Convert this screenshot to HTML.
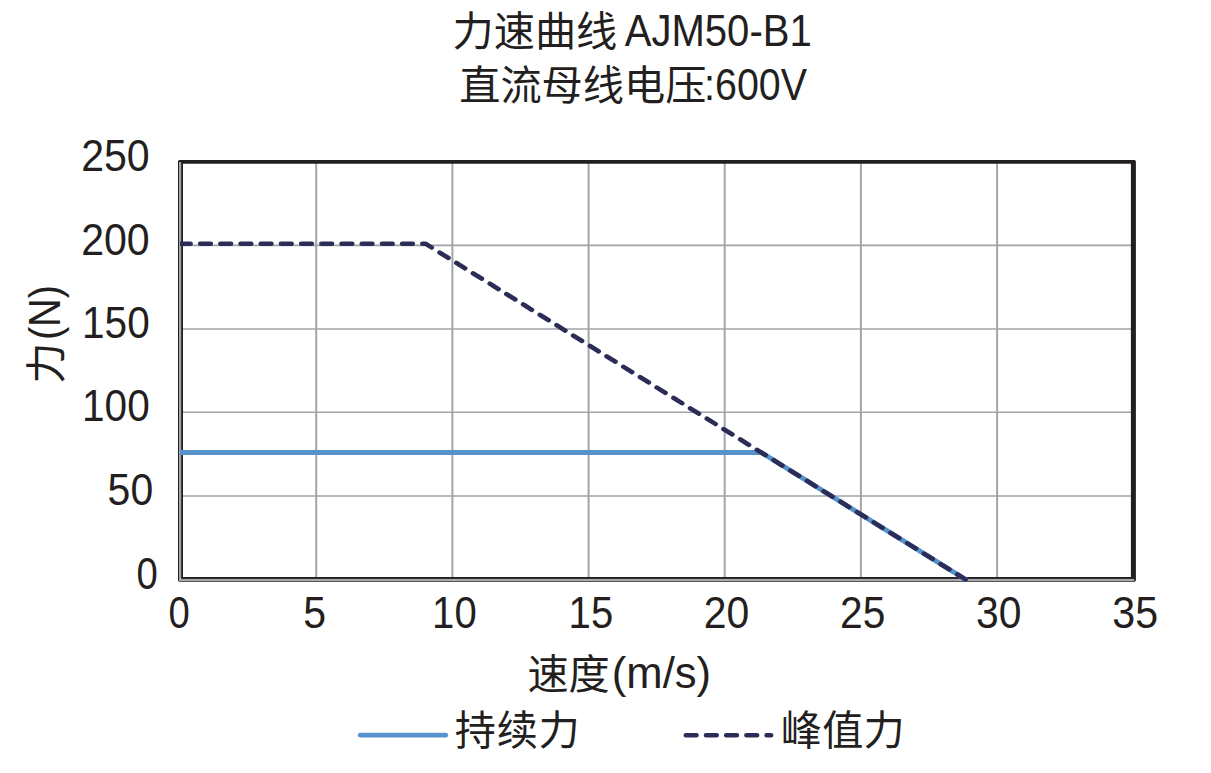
<!DOCTYPE html>
<html lang="zh-CN">
<head>
<meta charset="utf-8">
<title>力速曲线 AJM50-B1</title>
<style>
  html, body { margin: 0; padding: 0; background: #ffffff; }
  body { width: 1211px; height: 773px; overflow: hidden; }
  svg { display: block; }
  text {
    font-family: "Liberation Sans", "Noto Sans CJK SC", sans-serif;
    fill: #231f20;
    font-kerning: none;
  }
  .cjk { font-size: 41.2px; }
  .num { font-size: 45.0px; }
</style>
</head>
<body>
<svg width="1211" height="773" viewBox="0 0 1211 773">
  <rect x="0" y="0" width="1211" height="773" fill="#ffffff"/>

  <!-- chart title -->
  <text class="cjk" x="452.5" y="46">力速曲线</text>
  <text class="num" transform="translate(624.65 45.90) scale(0.8907 1)">AJM50-B1</text>
  <text class="cjk" x="459.2" y="99.8">直流母线电压</text>
  <text class="num" transform="translate(704.10 99.80) scale(0.8757 1)">:600V</text>

  <!-- grid lines -->
  <g stroke="#a1a3a7" fill="none">
    <g stroke-width="1.95">
      <line x1="316.2" y1="162" x2="316.2" y2="580"/>
      <line x1="452.4" y1="162" x2="452.4" y2="580"/>
      <line x1="588.6" y1="162" x2="588.6" y2="580"/>
      <line x1="724.7" y1="162" x2="724.7" y2="580"/>
      <line x1="860.9" y1="162" x2="860.9" y2="580"/>
      <line x1="997.1" y1="162" x2="997.1" y2="580"/>
    </g>
    <g stroke-width="1.55">
      <line x1="180" y1="245.35" x2="1133" y2="245.35"/>
      <line x1="180" y1="328.95" x2="1133" y2="328.95"/>
      <line x1="180" y1="412.2" x2="1133" y2="412.2"/>
      <line x1="180" y1="495.9" x2="1133" y2="495.9"/>
    </g>
  </g>

  <!-- plot border -->
  <path fill="#231f20" fill-rule="evenodd"
        d="M179.6 160 H1134.3 Q1135.9 160 1135.9 161.6 V580.05 Q1135.9 581.65 1134.3 581.65 H179.6 Q178 581.65 178 580.05 V161.6 Q178 160 179.6 160 Z
           M183 163.7 V577 H1130.9 V163.7 Z"/>
  <!-- axis lines (gray) -->
  <rect x="179" y="162.1" width="2.2" height="418.9" fill="#a7a9ac"/>
  <rect x="179" y="578.9" width="955.1" height="2.1" fill="#a7a9ac"/>

  <!-- data series (drawn in a horizontally stretched space so dash rhythm matches) -->
  <clipPath id="plotclip"><rect x="180.1" y="150" width="960" height="440"/></clipPath>
  <g clip-path="url(#plotclip)">
    <g transform="scale(1.0946 1)" fill="none" stroke-linejoin="round" stroke-linecap="round">
      <polyline points="164.535,452.5 695.505,452.5 882.149,579.5" stroke="#5693ca" stroke-width="4.8"/>
      <polyline points="164.535,243.7 388.726,243.7 882.149,579.5" stroke="#2b2d57" stroke-width="4.5" stroke-dasharray="9.5 8.954"/>
    </g>
  </g>

  <!-- y axis tick labels -->
  <text class="num" transform="translate(81.14 171.05) scale(0.9138 1)">250</text>
  <text class="num" transform="translate(81.14 254.55) scale(0.9138 1)">200</text>
  <text class="num" transform="translate(82.01 338.15) scale(0.9022 1)">150</text>
  <text class="num" transform="translate(82.01 421.40) scale(0.9022 1)">100</text>
  <text class="num" transform="translate(107.60 505.10) scale(0.9109 1)">50</text>
  <text class="num" transform="translate(136.61 588.60) scale(0.8518 1)">0</text>
  <!-- x axis tick labels -->
  <text class="num" transform="translate(168.61 628.20) scale(0.8518 1)">0</text>
  <text class="num" transform="translate(303.13 628.20) scale(0.9128 1)">5</text>
  <text class="num" transform="translate(432.12 628.20) scale(0.8911 1)">10</text>
  <text class="num" transform="translate(568.61 628.20) scale(0.8911 1)">15</text>
  <text class="num" transform="translate(703.64 628.20) scale(0.9098 1)">20</text>
  <text class="num" transform="translate(839.98 628.20) scale(0.9051 1)">25</text>
  <text class="num" transform="translate(976.01 628.20) scale(0.9079 1)">30</text>
  <text class="num" transform="translate(1112.22 628.20) scale(0.9157 1)">35</text>
  <!-- axis titles -->
  <text class="cjk" x="527.4" y="688.7">速度</text>
  <text class="num" transform="translate(611.85 687.80) scale(0.9688 1)">(m/s)</text>
  <g transform="translate(61.3 382) rotate(-90)">
    <text class="cjk" x="-1.7" y="0">力</text>
    <text class="num" transform="translate(41.89 -0.90) scale(0.8830 1)">(N)</text>
  </g>

  <!-- legend -->
  <line x1="360.3" y1="735.2" x2="445.7" y2="735.2" stroke="#5693ca" stroke-width="4.8" stroke-linecap="round"/>
  <text class="cjk" x="454.7" y="745.1" letter-spacing="0.75">持续力</text>
  <line transform="scale(1.0946 1)" x1="626.667" y1="735.2" x2="704.367" y2="735.2" stroke="#2b2d57" stroke-width="4.5"
        stroke-linecap="round" stroke-dasharray="9.5 8.954"/>
  <text class="cjk" x="780.7" y="745.1" letter-spacing="0.25">峰值力</text>
</svg>
</body>
</html>
